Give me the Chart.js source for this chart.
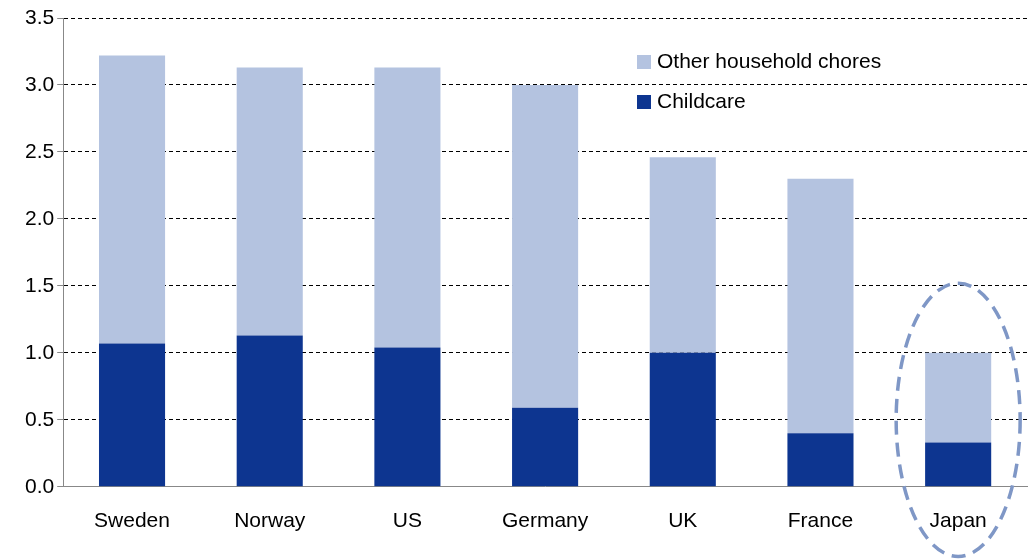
<!DOCTYPE html>
<html>
<head>
<meta charset="utf-8">
<script src="https://cdn.jsdelivr.net/npm/chart.js@4/dist/chart.umd.min.js"></script>
<style>
  body { margin: 0; background: #fff; }
  #wrap { width: 1033px; height: 559px; }
</style>
</head>
<body>
<div id="wrap"><canvas id="c"></canvas></div>
<script>
// Données
const pays = ['Sweden', 'Norway', 'US', 'Germany', 'UK', 'France', 'Japan'];
const gardeEnfants = [1.07, 1.13, 1.04, 0.59, 1.0, 0.40, 0.33];
const autresTaches = [2.15, 2.0, 2.09, 2.41, 1.46, 1.90, 0.67];

const police = 'Liberation Sans, Arial';

// Ellipse pointillée autour du Japon
const ellipsePlugin = {
    id: 'ellipseJapon',
    afterDatasetsDraw(chart) {
        const x = chart.scales.x, y = chart.scales.y;
        const cx = x.getPixelForValue(6);
        const top = y.getPixelForValue(1.52);
        const bottom = y.getPixelForValue(-0.52);
        const ctx = chart.ctx;
        ctx.save();
        ctx.beginPath();
        ctx.ellipse(cx, (top + bottom) / 2, 62, (bottom - top) / 2, 0, 0, Math.PI * 2);
        ctx.setLineDash([14, 8]);
        ctx.lineWidth = 3.5;
        ctx.strokeStyle = '#7f97c6';
        ctx.stroke();
        ctx.restore();
    }
};

// Légende dessinée à la main dans la zone du graphique
const legendePlugin = {
    id: 'legendeInterne',
    afterDraw(chart) {
        const ctx = chart.ctx;
        const a = chart.chartArea;
        const x0 = a.right - 390;
        const items = [chart.data.datasets[1], chart.data.datasets[0]];
        ctx.save();
        ctx.font = '21px ' + police;
        ctx.textBaseline = 'middle';
        items.forEach((ds, i) => {
            const yc = a.top + 44 + i * 40;
            ctx.fillStyle = ds.backgroundColor;
            ctx.fillRect(x0, yc - 7, 14, 14);
            ctx.fillStyle = '#000';
            ctx.fillText(ds.label, x0 + 20, yc);
        });
        ctx.restore();
    }
};

new Chart(document.getElementById('c'), {
    type: 'bar',
    data: {
        labels: pays,
        datasets: [{
            label: 'Childcare',
            data: gardeEnfants,
            backgroundColor: '#0d3590',
            categoryPercentage: 1,
            barPercentage: 0.48
        }, {
            label: 'Other household chores',
            data: autresTaches,
            backgroundColor: '#b4c3e0',
            categoryPercentage: 1,
            barPercentage: 0.48
        }]
    },
    options: {
        responsive: true,
        maintainAspectRatio: false,
        animation: false,
        layout: { padding: { left: 22, right: 6, top: 18, bottom: 11 } },
        plugins: {
            tooltip: { enabled: false },
            legend: { display: false }
        },
        scales: {
            x: {
                stacked: true,
                grid: { display: false },
                border: { color: '#888', width: 1 },
                ticks: { color: '#000', padding: 14, font: { family: police, size: 21 } }
            },
            y: {
                stacked: true,
                min: 0, max: 3.5,
                ticks: {
                    stepSize: 0.5,
                    color: '#000',
                    font: { family: police, size: 21 },
                    callback: v => v.toFixed(1)
                },
                border: { color: '#888', width: 1, dash: [4, 3] },
                grid: { color: '#000', tickColor: '#888', tickLength: 6, tickBorderDash: [] }
            }
        }
    },
    plugins: [ellipsePlugin, legendePlugin]
});
</script>
</body>
</html>
